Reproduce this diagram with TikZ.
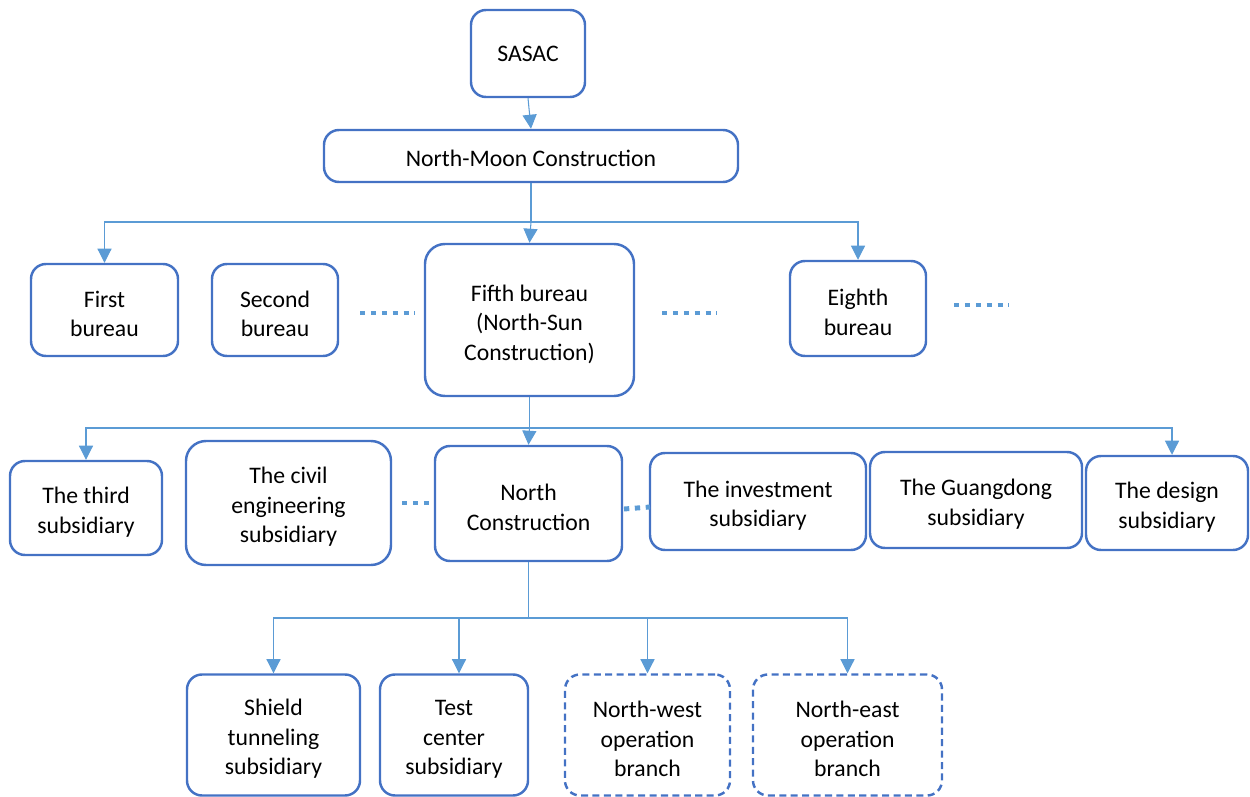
\documentclass[tikz,border=0pt]{standalone}
\usepackage{fontspec}
\setmainfont{Carlito}
\usetikzlibrary{arrows.meta}
\definecolor{boxblue}{HTML}{4472C4}
\definecolor{lineblue}{HTML}{5B9BD5}
\def\u{0.02cm}
\newcommand\firstln{\rule{0pt}{14pt}}
\tikzset{
  box/.style={draw=boxblue, line width=1.4pt, rounded corners=0.3cm, align=center, inner sep=0pt,
    font=\fontsize{13.5}{16.8}\selectfont},
  dbox/.style={box, dashed, dash pattern=on 4pt off 2.5pt},
  conn/.style={draw=lineblue, line width=0.6pt},
  arr/.style={conn, -{Triangle[width=8pt,length=8pt]}},
  dots/.style={draw=lineblue, line width=2.8pt, dash pattern=on 3pt off 3.2pt},
}
\begin{document}
\begin{tikzpicture}[x=\u, y=-\u]
\useasboundingbox (0,0) rectangle (1250,797);
% level 0-1
\node[box, minimum width=114*\u, minimum height=87*\u] (sasac) at (528,53.5) {SASAC};
\node[box, minimum width=414*\u, minimum height=52*\u] (nm) at (531,156) {\rule{0pt}{12.5pt}North-Moon Construction};
% level 2
\node[box, minimum width=147*\u, minimum height=92*\u] (first) at (104.5,310) {\firstln First\\bureau};
\node[box, minimum width=126*\u, minimum height=92*\u] (second) at (275,310) {\firstln Second\\bureau};
\node[box, minimum width=209*\u, minimum height=152*\u, rounded corners=0.4cm] (fifth) at (529.5,320) {\firstln Fifth bureau\\(North-Sun\\Construction)};
\node[box, minimum width=136*\u, minimum height=95*\u] (eighth) at (858,308.5) {\firstln Eighth\\bureau};
% level 3
\node[box, minimum width=152*\u, minimum height=94*\u] (third) at (86,508) {\firstln The third\\subsidiary};
\node[box, minimum width=205*\u, minimum height=124*\u, rounded corners=0.4cm] (civil) at (288.5,503) {\firstln The civil\\engineering\\subsidiary};
\node[box, minimum width=187*\u, minimum height=115*\u] (north) at (528.5,503.5) {\firstln North\\Construction};
\node[box, minimum width=216*\u, minimum height=97*\u] (invest) at (758,501.5) {\firstln The investment\\subsidiary};
\node[box, minimum width=212*\u, minimum height=96*\u] (guang) at (976,500) {\firstln The Guangdong\\subsidiary};
\node[box, minimum width=162*\u, minimum height=94*\u] (design) at (1167,503) {\firstln The design\\subsidiary};
% level 4
\node[box, minimum width=173*\u, minimum height=121*\u] (shield) at (273.5,735) {\firstln Shield\\tunneling\\subsidiary};
\node[box, minimum width=148*\u, minimum height=121*\u] (test) at (454,735) {\firstln Test\\center\\subsidiary};
\node[dbox, minimum width=165*\u, minimum height=121*\u] (nw) at (647.5,735) {\firstln North-west\\operation\\branch};
\node[dbox, minimum width=189*\u, minimum height=121*\u] (ne) at (847.5,735) {\firstln North-east\\operation\\branch};
% connectors
\draw[arr] (sasac.south) -- (nm.north);
\coordinate (j1) at (531,222);
\draw[conn] (nm.south) -- (j1);
\draw[arr] (j1) -- (fifth.north);
\draw[arr] (j1) -| (first.north);
\draw[arr] (j1) -| (eighth.north);
\coordinate (j2) at (529.5,428);
\draw[conn] (fifth.south) -- (j2);
\draw[arr] (j2) -- (north.north);
\draw[arr] (j2) -| (third.north);
\draw[arr] (j2) -| ([xshift=5*\u]design.north);
\coordinate (j3) at (528.5,618);
\draw[conn] (north.south) -- (j3);
\draw[arr] (j3) -| (shield.north);
\draw[arr] (j3) -| ([xshift=5*\u]test.north);
\draw[arr] (j3) -| (nw.north);
\draw[arr] (j3) -| (ne.north);
% ellipses
\coordinate (d1a) at (360,313); \coordinate (d1b) at (415,313);
\coordinate (d2a) at (662,313); \coordinate (d2b) at (717,313);
\coordinate (d3a) at (954,305); \coordinate (d3b) at (1009,305);
\coordinate (d4a) at (402,503); \coordinate (d4b) at (430,503);
\coordinate (d5a) at (624,509); \coordinate (d5b) at (650,507);
\draw[dots] (d1a) -- (d1b);
\draw[dots] (d2a) -- (d2b);
\draw[dots] (d3a) -- (d3b);
\draw[dots] (d4a) -- (d4b);
\draw[dots] (d5a) -- (d5b);
\end{tikzpicture}
\end{document}
